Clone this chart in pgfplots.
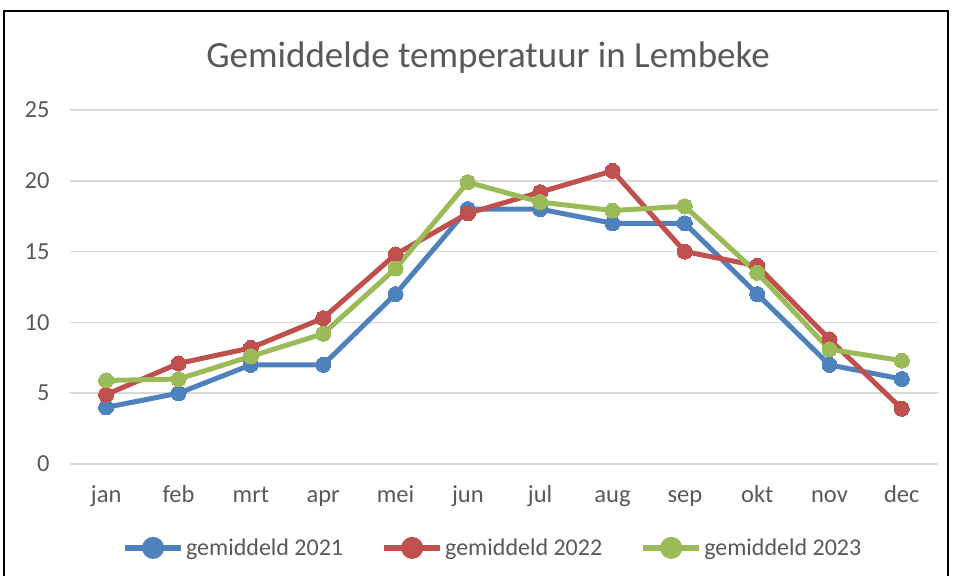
\documentclass[border=0pt]{standalone}
\usepackage{fontspec}
\setmainfont{Carlito}
\usepackage{pgfplots}
\pgfplotsset{compat=1.18}
\definecolor{s21}{HTML}{4F81BD}
\definecolor{s22}{HTML}{C0504D}
\definecolor{s23}{HTML}{9BBB59}
\definecolor{txt}{HTML}{595959}
\definecolor{gridc}{HTML}{D9D9D9}
\begin{document}
\begin{tikzpicture}
\path[use as bounding box] (0,0) rectangle (954pt,-576pt);
\draw[black,line width=1.2pt] (4pt,-580pt) -- (4pt,-11pt) -- (948pt,-11pt) -- (948pt,-580pt);
\node[text=txt,font=\fontsize{37}{43}\selectfont,anchor=base] at (488pt,-67pt) {Gemiddelde temperatuur in Lembeke};
\begin{axis}[
  at={(70pt,-464pt)}, anchor=south west,
  scale only axis, width=868pt, height=354pt,
  xmin=0.5, xmax=12.5, ymin=0, ymax=25,
  xtick={1,...,12},
  xticklabels={jan,feb,mrt,apr,mei,jun,jul,aug,sep,okt,nov,dec},
  ytick={0,5,...,25},
  axis line style={draw=none},
  major tick length=0pt,
  ymajorgrids, grid style={gridc,line width=1.5pt},
  tick label style={text=txt,font=\fontsize{24.5}{28}\selectfont},
  /pgf/number format/assume math mode=true,
  xticklabel style={anchor=base,yshift=-38pt},
  yticklabel style={xshift=-17pt},
  legend columns=3,
  legend style={draw=none,at={(0.487,-0.237)},anchor=center,
    font=\fontsize{24}{28}\selectfont,text=txt,
    /tikz/every even column/.append style={column sep=36pt}},
  legend image code/.code={
    \draw[#1,mark=none,line width=6pt] (0pt,0pt) -- (56pt,0pt);
    \fill[#1] (28pt,0pt) circle (8.5pt);},
  every axis plot/.append style={line width=5pt,mark=*,mark size=7.5pt},
]
\addplot[s21,mark options={fill=s21,draw=s21,line width=0pt}] coordinates {
  (1,4)(2,5)(3,7)(4,7)(5,12)(6,18)(7,18)(8,17)(9,17)(10,12)(11,7)(12,6)};
\addlegendentry{gemiddeld 2021}
\addplot[s22,mark options={fill=s22,draw=s22,line width=0pt}] coordinates {
  (1,4.9)(2,7.1)(3,8.2)(4,10.3)(5,14.8)(6,17.7)(7,19.2)(8,20.7)(9,15.0)(10,14.0)(11,8.8)(12,3.9)};
\addlegendentry{gemiddeld 2022}
\addplot[s23,mark options={fill=s23,draw=s23,line width=0pt}] coordinates {
  (1,5.9)(2,6.0)(3,7.6)(4,9.2)(5,13.8)(6,19.9)(7,18.5)(8,17.9)(9,18.2)(10,13.5)(11,8.1)(12,7.3)};
\addlegendentry{gemiddeld 2023}
\end{axis}
\end{tikzpicture}
\end{document}
